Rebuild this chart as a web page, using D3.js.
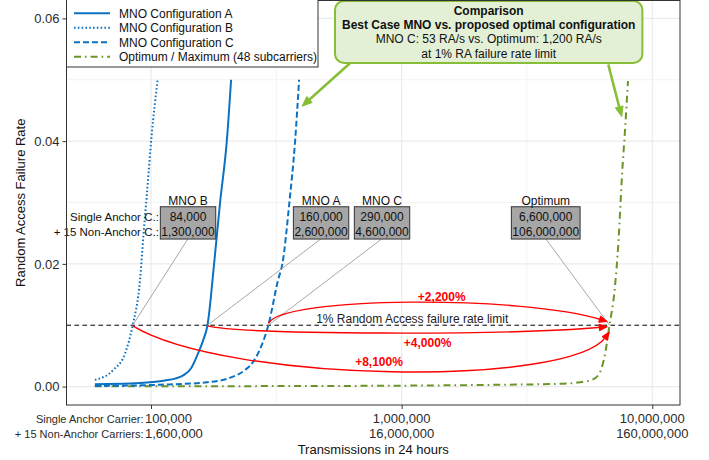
<!DOCTYPE html>
<html><head><meta charset="utf-8">
<script src="https://cdn.jsdelivr.net/npm/d3@7"></script>
<style>
body{margin:0;background:#fff}
text{font-family:"Liberation Sans",Arial,Helvetica,sans-serif}
</style>
</head><body>
<svg id="c" width="709" height="460"></svg>
<script>
// ---------------- DATA ----------------
const seriesNames = ["MNO Configuration A","MNO Configuration B","MNO Configuration C","Optimum / Maximum (48 subcarriers)"];

const mnoA_x = [59700, 82500, 99100, 113700, 124700, 135400, 144500, 154000, 161300, 168000, 178500, 188600, 200600, 208700];
const mnoA_y = [0.0004, 0.0005, 0.0007, 0.0010, 0.0013, 0.0019, 0.0030, 0.0054, 0.0075, 0.010, 0.020, 0.030, 0.040, 0.050];

const mnoB_x = [59700, 70700, 78800, 84500, 90400, 93200, 96100, 100600, 106300];
const mnoB_y = [0.0011, 0.0027, 0.0054, 0.010, 0.0174, 0.0245, 0.031, 0.041, 0.050];

const mnoC_x = [59700, 108600, 167300, 208700, 237300, 256100, 274900, 293900, 321400, 334300, 356500, 375700, 389800];
const mnoC_y = [0.0001, 0.0003, 0.0007, 0.0015, 0.0027, 0.0041, 0.0065, 0.010, 0.0174, 0.020, 0.030, 0.040, 0.050];

const opt_x = [59700, 500000, 1000000, 2500000, 4300000, 5005000, 5745000, 6161000, 6492000, 6754000, 7053000, 7338000, 7568000, 7801000, 7998000];
const opt_y = [0.00005, 0.0001, 0.00015, 0.0003, 0.00045, 0.00065, 0.0011, 0.0022, 0.0055, 0.0101, 0.0152, 0.024, 0.0343, 0.0424, 0.0498];

const xTicks = [100000, 1000000, 10000000];
const xTickLabels1 = ["100,000", "1,000,000", "10,000,000"];
const xTickLabels2 = ["1,600,000", "16,000,000", "160,000,000"];
const xPrefix = ["Single Anchor Carrier:", "+ 15 Non-Anchor Carriers:"];
const xMinor = [316228, 3162278];
const yTicks = [0, 0.02, 0.04, 0.06];
const yTickLabels = ["0.00", "0.02", "0.04", "0.06"];
const yMinor = [0.01, 0.03, 0.05];
const limitRate = 0.01;
const limitLabel = "1% Random Access failure rate limit";

// annotation boxes: name, single anchor, +15 non-anchor, box centre (x,y), target point
const annNames = ["MNO B", "MNO A", "MNO C", "Optimum"];
const annSingle = ["84,000", "160,000", "290,000", "6,600,000"];
const annMulti = ["1,300,000", "2,600,000", "4,600,000", "106,000,000"];
const annBoxX = [140500, 477000, 835000, 3757000];
const annBoxY = [0.0267, 0.0267, 0.0267, 0.0267];
const annTargetX = [84500, 168000, 293900, 6754000];
const annTargetY = [0.01, 0.01, 0.01, 0.01];
const annRowLabels = ["Single Anchor C.:", "+ 15 Non-Anchor C.:"];

// red improvement arrows
const gainLabels = ["+2,200%", "+4,000%", "+8,100%"];
const gainFromX = [293900, 168000, 84500];
const gainFromY = [0.0103, 0.0099, 0.0099];
const gainToX = [6613000, 6613000, 6737000];
const gainToY = [0.0106, 0.00975, 0.0089];
const gainLabelX = [1445000, 1270000, 812000];
const gainLabelY = [0.0146, 0.0072, 0.0040];

// comparison call-out
const cmpLines = ["Comparison", "Best Case MNO vs. proposed optimal configuration", "MNO C: 53 RA/s vs. Optimum: 1,200 RA/s", "at 1% RA failure rate limit"];
const cmpBold = [true, true, false, false];
const cmpX = 2225000, cmpY = 0.0578;
const cmpArrowFromX = [622000, 6673000];
const cmpArrowFromY = [0.0527, 0.0525];
const cmpArrowToX = [400600, 7551000];
const cmpArrowToY = [0.0457, 0.0440];

// ---------------- CHART ----------------
const W = 709, H = 460;
const P = {l: 66.5, r: 680, t: 0.5, b: 405};
const x = d3.scaleLog().domain([46000, 12900000]).range([P.l, P.r]);
const y = d3.scaleLinear().domain([-0.003, 0.063]).range([P.b, 0]);

const svg = d3.select("#c");
svg.append("rect").attr("width", W).attr("height", H).attr("fill", "#fff");
svg.append("defs").append("clipPath").attr("id", "clip")
  .append("rect").attr("x", P.l).attr("y", P.t).attr("width", P.r - P.l).attr("height", P.b - P.t);

const grid = svg.append("g");
yMinor.forEach(v => grid.append("line").attr("x1", P.l).attr("x2", P.r).attr("y1", y(v)).attr("y2", y(v)).attr("stroke", "#f0f0f0").attr("stroke-width", 0.8));
xMinor.forEach(v => grid.append("line").attr("y1", P.t).attr("y2", P.b).attr("x1", x(v)).attr("x2", x(v)).attr("stroke", "#f0f0f0").attr("stroke-width", 0.8));
yTicks.forEach(v => grid.append("line").attr("x1", P.l).attr("x2", P.r).attr("y1", y(v)).attr("y2", y(v)).attr("stroke", "#ebebeb").attr("stroke-width", 1.2));
xTicks.forEach(v => grid.append("line").attr("y1", P.t).attr("y2", P.b).attr("x1", x(v)).attr("x2", x(v)).attr("stroke", "#ebebeb").attr("stroke-width", 1.2));

// axes
const yAxis = d3.axisLeft(y).tickValues(yTicks).tickFormat((d, i) => yTickLabels[i]).tickSize(4).tickPadding(3);
const ya = svg.append("g").attr("transform", `translate(${P.l},0)`).call(yAxis);
ya.select(".domain").remove();
ya.selectAll("line").attr("stroke", "#333");
ya.selectAll("text").attr("font-size", 13).attr("fill", "#2b2b2b").attr("font-family", "Liberation Sans, Arial, sans-serif");

const xAxis = d3.axisBottom(x).tickValues(xTicks).tickFormat(() => "").tickSize(4);
const xa = svg.append("g").attr("transform", `translate(0,${P.b})`).call(xAxis);
xa.select(".domain").remove();
xa.selectAll("line").attr("stroke", "#333");

const xl = svg.append("g").attr("font-size", 13).attr("fill", "#2b2b2b");
xTicks.forEach((v, i) => {
  const first = i === 0;
  const px = first ? x(v) - 6 : x(v);
  const anchor = first ? "start" : "middle";
  xl.append("text").attr("x", px).attr("y", P.b + 17.5).attr("text-anchor", anchor).text(xTickLabels1[i]);
  xl.append("text").attr("x", px).attr("y", P.b + 33).attr("text-anchor", anchor).text(xTickLabels2[i]);
});
xPrefix.forEach((t, i) => {
  xl.append("text").attr("x", x(xTicks[0]) - 7.5).attr("y", P.b + 17.5 + i * 15.5)
    .attr("text-anchor", "end").attr("font-size", 11).text(t);
});
svg.append("text").attr("x", (P.l + P.r) / 2).attr("y", 454).attr("text-anchor", "middle")
  .attr("font-size", 13).attr("fill", "#111").text("Transmissions in 24 hours");
svg.append("text").attr("transform", `translate(25,${(P.t + P.b) / 2}) rotate(-90)`).attr("text-anchor", "middle")
  .attr("font-size", 13).attr("fill", "#111").text("Random Access Failure Rate");

// plot layer
const plot = svg.append("g").attr("clip-path", "url(#clip)");

// 1% limit line
plot.append("line").attr("x1", P.l).attr("x2", P.r).attr("y1", y(limitRate)).attr("y2", y(limitRate))
  .attr("stroke", "#000").attr("stroke-width", 1).attr("stroke-dasharray", "4.5,3.5");

// connectors & annotation boxes
const ann = svg.append("g");
annNames.forEach((n, i) => {
  ann.append("line").attr("x1", x(annBoxX[i])).attr("y1", y(annBoxY[i]) + 16)
    .attr("x2", x(annTargetX[i])).attr("y2", y(annTargetY[i]))
    .attr("stroke", "#a8a8a8").attr("stroke-width", 1);
});

// series
const blue = "#0a72c4", green = "#6b9527";
const series = [
  {name: seriesNames[0], xs: mnoA_x, ys: mnoA_y, color: blue, dash: null, w: 2},
  {name: seriesNames[1], xs: mnoB_x, ys: mnoB_y, color: blue, dash: "1.6,2.2", w: 2},
  {name: seriesNames[2], xs: mnoC_x, ys: mnoC_y, color: blue, dash: "6,3", w: 2},
  {name: seriesNames[3], xs: opt_x, ys: opt_y, color: green, dash: "7,4,1.6,4", w: 2}
];
const line = d3.line().x(d => x(d[0])).y(d => y(d[1])).curve(d3.curveMonotoneX);
[3, 0, 1, 2].forEach(k => {
  const s = series[k];
  plot.append("path").datum(s.xs.map((v, i) => [v, s.ys[i]])).attr("d", line)
    .attr("fill", "none").attr("stroke", s.color).attr("stroke-width", s.w)
    .attr("stroke-dasharray", s.dash);
});

// limit label
svg.append("text").attr("x", x(1102000)).attr("y", y(limitRate) - 2.5).attr("text-anchor", "middle")
  .attr("font-size", 12).attr("fill", "#222").text(limitLabel);

// red curved arrows
function arrowHead(g, tip, from, color, len, wid) {
  const dx = tip[0] - from[0], dy = tip[1] - from[1], L = Math.hypot(dx, dy);
  const ux = dx / L, uy = dy / L;
  const bx = tip[0] - ux * len, by = tip[1] - uy * len;
  g.append("path").attr("d", `M${tip[0]},${tip[1]} L${bx - uy * wid / 2},${by + ux * wid / 2} L${bx + uy * wid / 2},${by - ux * wid / 2} Z`)
    .attr("fill", color).attr("stroke", color).attr("stroke-width", 1).attr("stroke-linejoin", "miter");
}
const bend = [{a: 0.04, b: 0.75, h: -27}, {a: 0.1, b: 0.75, h: 9}, {a: 0.2, b: 0.92, h: 56}];
const red = "#ff0000";
const arr = svg.append("g");
gainLabels.forEach((lab, i) => {
  const p0 = [x(gainFromX[i]), y(gainFromY[i])], p3 = [x(gainToX[i]), y(gainToY[i])];
  const dx = p3[0] - p0[0], dy = p3[1] - p0[1], L = Math.hypot(dx, dy);
  const nx = -dy / L, ny = dx / L;
  const bd = bend[i];
  const p1 = [p0[0] + dx * bd.a + nx * bd.h, p0[1] + dy * bd.a + ny * bd.h];
  const p2 = [p0[0] + dx * bd.b + nx * bd.h, p0[1] + dy * bd.b + ny * bd.h];
  const hdx = p3[0] - p2[0], hdy = p3[1] - p2[1], hl = Math.hypot(hdx, hdy);
  const pe = [p3[0] - hdx / hl * 6, p3[1] - hdy / hl * 6];
  arr.append("path").attr("d", `M${p0[0]},${p0[1]} C${p1[0]},${p1[1]} ${p2[0]},${p2[1]} ${pe[0]},${pe[1]}`)
    .attr("fill", "none").attr("stroke", red).attr("stroke-width", 1.4);
  arrowHead(arr, p3, p2, red, 8, 6.5);
  arr.append("text").attr("x", x(gainLabelX[i])).attr("y", y(gainLabelY[i]) + 4.3).attr("text-anchor", "middle")
    .attr("font-size", 12).attr("font-weight", "bold").attr("fill", red).text(lab);
});

// annotation boxes on top
annNames.forEach((n, i) => {
  const cx = x(annBoxX[i]), cy = y(annBoxY[i]);
  const gb = ann.append("g");
  const rect = gb.append("rect");
  const t1 = gb.append("text").attr("x", cx).attr("y", cy - 2).attr("text-anchor", "middle").attr("font-size", 12).attr("fill", "#111").text(annSingle[i]);
  const t2 = gb.append("text").attr("x", cx).attr("y", cy + 13.3).attr("text-anchor", "middle").attr("font-size", 12).attr("fill", "#111").text(annMulti[i]);
  const w = Math.max(t1.node().getComputedTextLength(), t2.node().getComputedTextLength()) + 2;
  rect.attr("x", cx - w / 2).attr("y", cy - 16).attr("width", w).attr("height", 32.3)
    .attr("fill", "#a6a6a6").attr("stroke", "#333").attr("stroke-width", 1);
  gb.append("text").attr("x", cx).attr("y", cy - 17.8).attr("text-anchor", "middle").attr("font-size", 12).attr("fill", "#111").text(n);
  if (i === 0) {
    annRowLabels.forEach((t, k) => {
      gb.append("text").attr("x", cx - w / 2 - 1.5).attr("y", cy - 2 + k * 15.3).attr("text-anchor", "end")
        .attr("font-size", 11.5).attr("fill", "#111").text(t);
    });
  }
});

// comparison call-out
const cg = svg.append("g");
const cgreen = "#86bf37";
cmpArrowFromX.forEach((v, i) => {
  const p0 = [x(v), y(cmpArrowFromY[i])], p1 = [x(cmpArrowToX[i]), y(cmpArrowToY[i])];
  const dx = p1[0] - p0[0], dy = p1[1] - p0[1], L = Math.hypot(dx, dy);
  cg.append("line").attr("x1", p0[0]).attr("y1", p0[1]).attr("x2", p1[0] - dx / L * 7).attr("y2", p1[1] - dy / L * 7)
    .attr("stroke", cgreen).attr("stroke-width", 2.5);
  arrowHead(cg, p1, p0, cgreen, 10, 8);
});
const cbox = cg.append("rect");
const ccx = x(cmpX), ccy = y(cmpY);
let maxW = 0;
cmpLines.forEach((t, i) => {
  const tt = cg.append("text").attr("x", ccx).attr("y", ccy - 21.5 + 4.3 + i * 14.3).attr("text-anchor", "middle")
    .attr("font-size", 12).attr("font-weight", cmpBold[i] ? "bold" : "normal").attr("fill", "#111").text(t);
  maxW = Math.max(maxW, tt.node().getComputedTextLength());
});
cbox.attr("x", ccx - maxW / 2 - 7).attr("y", ccy - 31).attr("width", maxW + 14).attr("height", 62).attr("rx", 9).attr("ry", 9)
  .attr("fill", "#e3f0d6").attr("stroke", cgreen).attr("stroke-width", 2);

// panel border
svg.append("rect").attr("x", P.l).attr("y", P.t).attr("width", P.r - P.l).attr("height", P.b - P.t)
  .attr("fill", "none").attr("stroke", "#333").attr("stroke-width", 1);

// legend
const lg = svg.append("g");
lg.append("rect").attr("x", P.l).attr("y", -1).attr("width", 251.5).attr("height", 68)
  .attr("fill", "#fff").attr("stroke", "#333").attr("stroke-width", 1);
series.forEach((s, i) => {
  const yy = 13.3 + i * 14.5;
  lg.append("line").attr("x1", 74).attr("x2", 110).attr("y1", yy).attr("y2", yy)
    .attr("stroke", s.color).attr("stroke-width", s.w).attr("stroke-dasharray", s.dash);
  lg.append("text").attr("x", 119).attr("y", yy + 4.3).attr("font-size", 12).attr("fill", "#111").text(s.name);
});
</script>
</body></html>
